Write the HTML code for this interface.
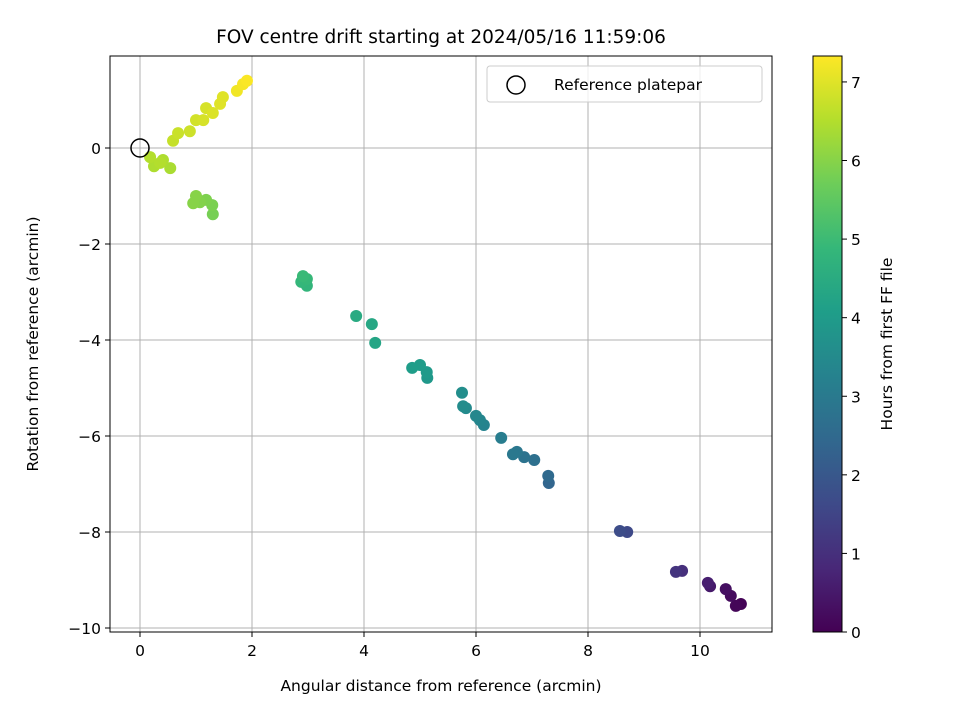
<!DOCTYPE html>
<html><head><meta charset="utf-8"><style>body{margin:0;background:#fff}svg{display:block}text{font-family:"DejaVu Sans","Liberation Sans",sans-serif;fill:#000}</style></head>
<body>
<svg id="chart" width="960" height="720" xmlns="http://www.w3.org/2000/svg"></svg>
<script>
const xs=[10.73,10.64,10.55,10.46,10.18,10.14,9.68,9.57,8.7,8.57,7.30,7.29,7.04,6.86,6.73,6.66,6.45,6.14,6.07,6.0,5.82,5.77,5.75,5.13,5.12,5.0,4.86,4.2,4.14,3.86,2.98,2.88,2.98,2.91,1.3,1.29,1.18,1.07,1.0,0.95,0.54,0.41,0.25,0.18,0.36,0.59,0.68,0.89,1.0,1.13,1.18,1.3,1.43,1.48,1.73,1.84,1.91];
const ys=[-9.5,-9.54,-9.33,-9.19,-9.13,-9.06,-8.81,-8.83,-8.0,-7.98,-6.98,-6.83,-6.5,-6.44,-6.33,-6.38,-6.04,-5.77,-5.67,-5.58,-5.42,-5.38,-5.1,-4.79,-4.67,-4.52,-4.58,-4.06,-3.67,-3.5,-2.87,-2.79,-2.73,-2.67,-1.38,-1.19,-1.08,-1.13,-1.0,-1.15,-0.42,-0.25,-0.38,-0.19,-0.31,0.15,0.31,0.35,0.58,0.58,0.83,0.73,0.92,1.06,1.19,1.33,1.4];
const hours=[0.05,0.1,0.2,0.3,0.5,0.6,1.0,1.1,1.6,1.7,2.4,2.5,2.7,2.8,2.9,2.95,3.1,3.3,3.35,3.4,3.5,3.55,3.6,3.9,3.95,4.0,4.05,4.3,4.35,4.45,4.8,4.85,4.9,4.95,5.8,5.85,5.9,5.95,6.0,6.0,6.4,6.45,6.45,6.5,6.5,6.7,6.75,6.8,6.85,6.9,6.9,6.95,7.0,7.0,7.2,7.25,7.3];
const xTicks=[0,2,4,6,8,10];
const yTicks=[0,-2,-4,-6,-8,-10];
const cTicks=[0,1,2,3,4,5,6,7];
const L=110,R=772,T=56,B=632;
const X=v=>140+v*56, Y=v=>148-v*48;
const HMAX=7.33, CY=h=>632-h/HMAX*576;
const vir=[[68,1,84],[72,40,120],[62,74,137],[49,104,142],[38,130,142],[31,158,137],[53,183,121],[109,205,89],[180,222,44],[253,231,37]];
function col(h){let t=Math.max(0,Math.min(1,h/HMAX))*9,i=Math.min(8,Math.floor(t)),f=t-i;const c=vir[i].map((a,k)=>Math.round(a+(vir[i+1][k]-a)*f));return `rgb(${c})`;}
const svg=document.getElementById('chart');const NS='http://www.w3.org/2000/svg';
function el(tag,attrs,parent){const e=document.createElementNS(NS,tag);for(const k in attrs)e.setAttribute(k,attrs[k]);(parent||svg).appendChild(e);return e;}
function txt(s,attrs){const e=el('text',attrs);e.textContent=s;return e;}
xTicks.forEach(v=>{const g=el('line',{x1:X(v),x2:X(v),y1:T,y2:B,stroke:'#b0b0b0','stroke-width':1});

el('line',{x1:X(v),x2:X(v),y1:B,y2:B+5,stroke:'#000'});
const l=txt(String(v).replace('-','−'),{x:X(v),y:B+24,'text-anchor':'middle','font-size':15.5});
});
yTicks.forEach(v=>{const g=el('line',{x1:L,x2:R,y1:Y(v),y2:Y(v),stroke:'#b0b0b0','stroke-width':1});

el('line',{x1:L-5,x2:L,y1:Y(v),y2:Y(v),stroke:'#000'});
const l=txt(String(v).replace('-','−'),{x:L-9,y:Y(v)+6,'text-anchor':'end','font-size':15.5});
});
xs.forEach((x,i)=>{const c=el('circle',{cx:X(x),cy:Y(ys[i]),r:6,fill:col(hours[i])});
});
const ref=el('circle',{cx:X(0),cy:Y(0),r:9,fill:'none',stroke:'#000','stroke-width':1.5});

const fr=el('rect',{x:L,y:T,width:R-L,height:B-T,fill:'none',stroke:'#000','stroke-width':1});

const lg=el('g',{});
el('rect',{x:487,y:66,width:275,height:36,rx:3,fill:'#fff',stroke:'#ccc','fill-opacity':0.8},lg);
el('circle',{cx:516,cy:85,r:9,fill:'none',stroke:'#000','stroke-width':1.5},lg);
const lt=el('text',{x:554,y:90,'font-size':15.5},lg);lt.textContent='Reference platepar';
const ti=txt('FOV centre drift starting at 2024/05/16 11:59:06',{x:441,y:43,'text-anchor':'middle','font-size':18.5});

const xt=txt('Angular distance from reference (arcmin)',{x:441,y:691,'text-anchor':'middle','font-size':15.5});

const yt=txt('Rotation from reference (arcmin)',{x:0,y:0,'text-anchor':'middle','font-size':15.5,transform:'translate(38,344) rotate(-90)'});

const defs=el('defs',{});const gr=el('linearGradient',{id:'vg',x1:0,y1:1,x2:0,y2:0},defs);
vir.forEach((c,i)=>el('stop',{offset:i/9,'stop-color':`rgb(${c})`},gr));
const cb=el('rect',{x:813,y:56,width:29,height:576,fill:'url(#vg)',stroke:'#000','stroke-width':1});

cTicks.forEach(h=>{el('line',{x1:842,x2:847,y1:CY(h),y2:CY(h),stroke:'#000'});
const l=txt(String(h),{x:851,y:CY(h)+6,'font-size':15.5});
});
const ct=txt('Hours from first FF file',{x:0,y:0,'text-anchor':'middle','font-size':15.5,transform:'translate(892,344) rotate(-90)'});

</script>
</body></html>
